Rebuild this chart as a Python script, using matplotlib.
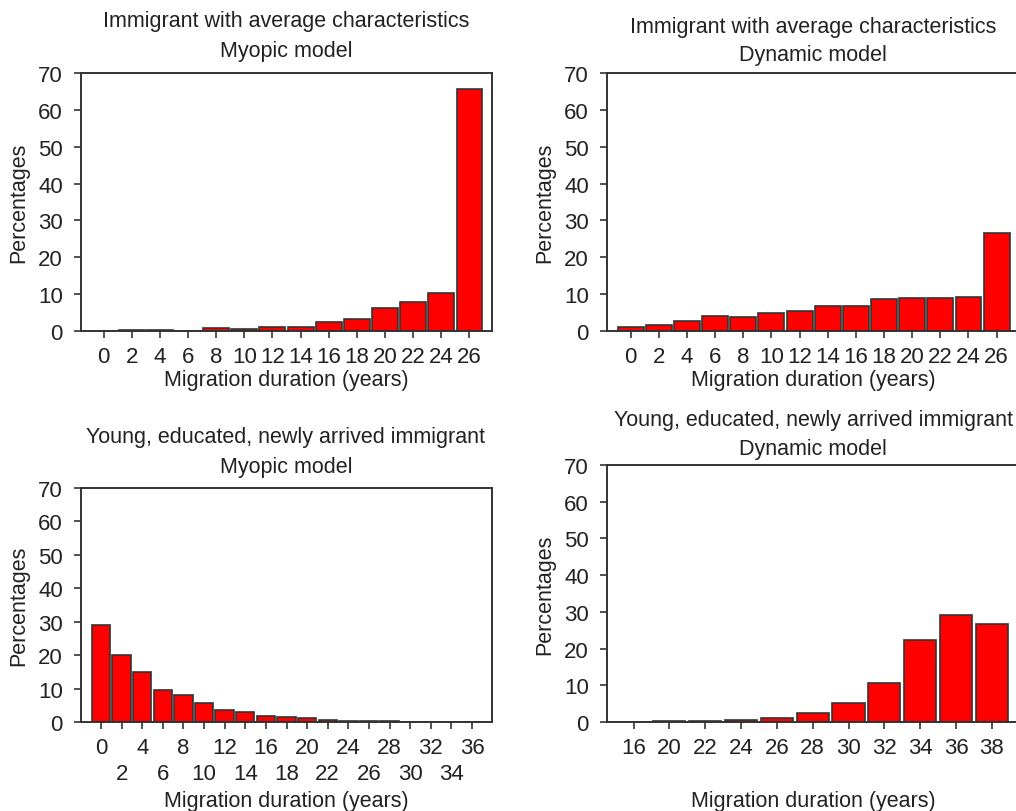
import matplotlib
matplotlib.use("Agg")
import matplotlib.pyplot as plt

plt.rcParams['font.family'] = ['Liberation Sans', 'DejaVu Sans']

# Data (percentages)
avg_years = [0, 2, 4, 6, 8, 10, 12, 14, 16, 18, 20, 22, 24, 26]
avg_myopic = [0.1, 0.35, 0.35, 0.1, 0.9, 0.6, 1.2, 1.2, 2.4, 3.2, 6.3, 7.8, 10.2, 65.7]
avg_dynamic = [1.2, 1.7, 2.6, 4.1, 3.7, 4.9, 5.3, 6.9, 6.9, 8.7, 9.0, 9.0, 9.2, 26.7]

young_myopic_years = [0, 2, 4, 6, 8, 10, 12, 14, 16, 18, 20, 22, 24, 26, 28, 30, 32, 34, 36]
young_myopic = [29.0, 20.0, 15.1, 9.7, 8.1, 5.8, 3.6, 3.0, 1.9, 1.4, 1.1, 0.7, 0.4, 0.4, 0.4,
                0.1, 0.05, 0.05, 0.05]
young_dynamic_years = [16, 20, 22, 24, 26, 28, 30, 32, 34, 36, 38]
young_dynamic = [0.05, 0.2, 0.2, 0.5, 1.1, 2.4, 5.3, 10.5, 22.4, 29.2, 26.8]

titles = [
    ("Immigrant with average characteristics", "Myopic model"),
    ("Immigrant with average characteristics", "Dynamic model"),
    ("Young, educated, newly arrived immigrant", "Myopic model"),
    ("Young, educated, newly arrived immigrant", "Dynamic model"),
]

W, H = 1016, 812
fig = plt.figure(figsize=(W / 100, H / 100), dpi=100)
fs = 15.5
tfs = 16
dark = '#222222'


def fx(px):
    return px / W


def fy(py):
    return 1 - py / H


def make_axes(l, t, r, b):
    return fig.add_axes([fx(l), fy(b), (r - l) / W, (b - t) / H])


def draw(ax, years, vals, xlim, width, two_rows=False):
    x = list(range(len(years)))
    ax.bar(x, vals, width=width, color='#ff0000', edgecolor='#333333', linewidth=1.2)
    ax.set_xlim(*xlim)
    ax.set_ylim(0, 70)
    ax.set_yticks(range(0, 71, 10))
    if two_rows:
        # alternate labels on two rows, as in the reference
        ax.set_xticks(x[0::2], [str(y) for y in years[0::2]])
        ax.set_xticks(x[1::2], [str(y) for y in years[1::2]], minor=True)
    else:
        ax.set_xticks(x, [str(y) for y in years])
    ax.tick_params(axis='both', which='both', labelsize=tfs, colors='#333333',
                   labelcolor=dark, length=5, width=1.2, direction='out')
    ax.tick_params(axis='x', which='major', pad=6)
    ax.tick_params(axis='x', which='minor', pad=24.5)
    ax.tick_params(axis='y', pad=8)
    for s in ax.spines.values():
        s.set_color('#333333')
        s.set_linewidth(1.4)


# panel layout in pixels: (left, top, right, bottom)
boxes = [(81, 74, 492, 332), (607, 74, 1018, 332), (81, 489, 492, 723), (607, 466, 1018, 723)]
axs = [make_axes(*b) for b in boxes]

draw(axs[0], avg_years, avg_myopic, (-0.8, 13.8), 0.92)
draw(axs[1], avg_years, avg_dynamic, (-0.84, 13.76), 0.92)
draw(axs[2], young_myopic_years, young_myopic, (-0.97, 18.97), 0.89, two_rows=True)
draw(axs[3], young_dynamic_years, young_dynamic, (-0.74, 10.73), 0.9)

# titles (two lines each), x labels, y labels
title_pos = [(286, 22, 52), (813, 28, 56), (286, 438, 467), (813, 421, 450)]
xlabel_y = [381, 381, 802, 802]
ylabel_x = [19, 545, 19, 545]
for ax, (l, t, r, b), (cx, y1, y2), (line1, line2), xly, ylx in zip(
        axs, boxes, title_pos, titles, xlabel_y, ylabel_x):
    fig.text(fx(cx), fy(y1), line1, ha='center', va='center', fontsize=fs, color=dark)
    fig.text(fx(cx), fy(y2), line2, ha='center', va='center', fontsize=fs, color=dark)
    fig.text(fx(cx), fy(xly), "Migration duration (years)", ha='center', va='center',
             fontsize=fs, color=dark)
    fig.text(fx(ylx), fy((t + b) / 2), "Percentages", ha='center', va='center',
             rotation=90, fontsize=fs, color=dark)

fig.savefig('out.png', dpi=100)
plt.close(fig)
